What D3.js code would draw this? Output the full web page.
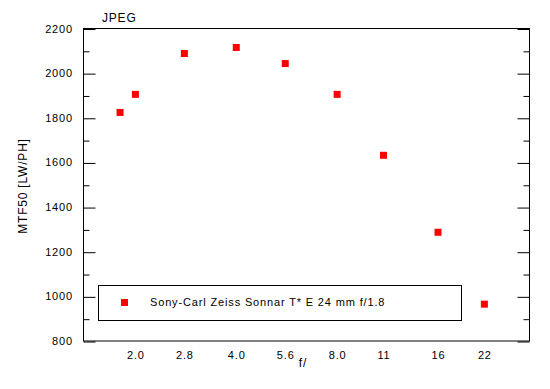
<!DOCTYPE html>
<html>
<head>
<meta charset="utf-8">
<script src="https://cdn.jsdelivr.net/npm/d3@7"></script>
<style>
  html, body { margin: 0; padding: 0; background: #fff; }
  svg { display: block; }
  text { font-family: "Liberation Sans", Arial, sans-serif; font-size: 11px; fill: #000; letter-spacing: 0.85px; }
  text.title { font-size: 12px; letter-spacing: 0.8px; }
</style>
</head>
<body>
<svg id="chart" width="550" height="389"></svg>
<script>
const fStops = [1.8, 2, 2.8, 4, 5.6, 8, 11, 16, 22];
const mtf50 = [1824, 1905, 2088, 2115, 2043, 1905, 1632, 1287, 965];
const xTickValues = [2, 2.8, 4, 5.6, 8, 11, 16, 22];
const xTickLabels = ["2.0", "2.8", "4.0", "5.6", "8.0", "11", "16", "22"];
const yMajorTicks = [800, 1000, 1200, 1400, 1600, 1800, 2000, 2200];
const yMinorTicks = [900, 1100, 1300, 1500, 1700, 1900, 2100];
const seriesName = "Sony-Carl Zeiss Sonnar T* E 24 mm f/1.8";
const titleText = "JPEG";
const xTitle = "f/";
const yTitle = "MTF50 [LW/PH]";

const svg = d3.select("#chart");
const L = 83.5, R = 529.5, T = 28.5, B = 341;

const x = d3.scaleLog().domain([1.4, 30]).range([L, R]);
const y = d3.scaleLinear().domain([800, 2200]).range([B, T]);

// frame
svg.append("rect").attr("x", L).attr("y", T).attr("width", R - L).attr("height", B - T)
  .attr("fill", "none").attr("stroke", "#000").attr("stroke-width", 1);

// left axis
const gL = svg.append("g").attr("transform", `translate(${L},0)`);
gL.call(d3.axisRight(y).tickValues(yMajorTicks).tickSize(12).tickFormat(""))
  .call(g => g.select(".domain").remove());
gL.append("g").call(d3.axisRight(y).tickValues(yMinorTicks).tickSize(6).tickFormat(""))
  .call(g => g.select(".domain").remove());
gL.selectAll("line").attr("stroke", "#000").attr("transform", "translate(0,0.5)");

// left labels
svg.append("g").selectAll("text").data(yMajorTicks).join("text")
  .attr("x", L - 10.5).attr("y", d => y(d) + 4)
  .attr("text-anchor", "end").text(d => d);

// right axis
const gR = svg.append("g").attr("transform", `translate(${R},0)`);
gR.call(d3.axisLeft(y).tickValues(yMajorTicks).tickSize(12).tickFormat(""))
  .call(g => g.select(".domain").remove());
gR.append("g").call(d3.axisLeft(y).tickValues(yMinorTicks).tickSize(6).tickFormat(""))
  .call(g => g.select(".domain").remove());
gR.selectAll("line").attr("stroke", "#000").attr("transform", "translate(0,0.5)");

// bottom labels
const gB = svg.append("g").attr("transform", `translate(0,${B})`);
gB.call(d3.axisBottom(x).tickValues(xTickValues).tickSize(0).tickPadding(0)
  .tickFormat((d, i) => xTickLabels[i]))
  .call(g => g.select(".domain").remove());
gB.attr("font-family", null).attr("font-size", null);
gB.selectAll("text").attr("y", 17.5).attr("dy", null).attr("fill", null);

// points
const pts = fStops.map((f, i) => ({ f, v: mtf50[i] }));
svg.append("g").selectAll("rect").data(pts).join("rect")
  .attr("x", d => x(d.f) - 3.5).attr("y", d => y(d.v) - 3.5)
  .attr("width", 7).attr("height", 7).attr("fill", "#ff0000");

// titles
svg.append("text").attr("class", "title").attr("x", 102).attr("y", 22).text(titleText);
svg.append("text").attr("class", "title").attr("x", 303).attr("y", 367).attr("text-anchor", "middle").text(xTitle);
svg.append("text").attr("class", "title").attr("transform", "translate(27,186) rotate(-90)")
  .attr("text-anchor", "middle").text(yTitle);

// legend
const lg = svg.append("g");
lg.append("rect").attr("x", 98.5).attr("y", 285.5).attr("width", 363).attr("height", 35)
  .attr("fill", "#fff").attr("stroke", "#000");
lg.append("rect").attr("x", 121).attr("y", 299).attr("width", 7).attr("height", 7).attr("fill", "#ff0000");
lg.append("text").attr("x", 150).attr("y", 306).text(seriesName);
</script>
</body>
</html>
